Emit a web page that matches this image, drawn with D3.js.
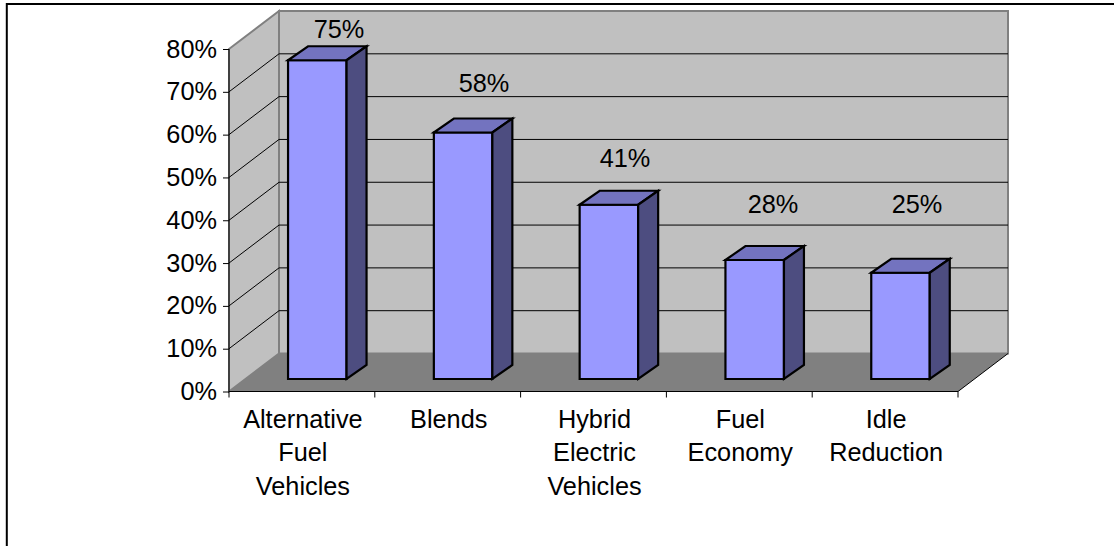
<!DOCTYPE html>
<html>
<head>
<meta charset="utf-8">
<script src="https://cdn.jsdelivr.net/npm/d3@7/dist/d3.min.js"></script>
<style>
html,body{margin:0;padding:0;background:#fff;overflow:hidden;}
svg{display:block;}
text{font-family:"Liberation Sans",Arial,sans-serif;font-size:25.3px;fill:#000;}
</style>
</head>
<body>
<svg id="chart" width="1114" height="546"></svg>
<script>
// Survey shares drawn as a 3D-look column chart
const categories = [
  ["Alternative","Fuel","Vehicles"],
  ["Blends"],
  ["Hybrid","Electric","Vehicles"],
  ["Fuel","Economy"],
  ["Idle","Reduction"]
];
const values = [75, 58, 41, 28, 25];
const tickValues = [0, 10, 20, 30, 40, 50, 60, 70, 80];
const valueLabelX = [339, 484, 625, 773, 917];
const valueLabelY = [38, 92, 167, 213, 213];

const svg = d3.select("#chart");
const frontLeft = 229, frontRight = 958, frontBase = 391.5, frontTop = 49;
const depthX = 50, depthY = -38;

const band = d3.scaleBand().domain(d3.range(values.length)).range([frontLeft, frontRight]);
const y = d3.scaleLinear().domain([0, 80]).range([frontBase, frontTop]);
// Columns stand partway back on the floor, so they get their own baseline
const barY = d3.scaleLinear().domain([0, 80]).range([379, 39]);
const barWidth = 58.5, barDX = 20, barDY = -14, barShift = 15.4;

const poly = pts => d3.line()(pts) + "Z";

// Outer frame, open past the right and bottom edges of the page
svg.append("rect").attr("x",6.8).attr("y",4).attr("width",1200).attr("height",700)
  .attr("fill","#fff").attr("stroke","#000").attr("stroke-width",2);

// Walls and floor
svg.append("path").attr("d", poly([[frontLeft+depthX,y(80)+depthY],[frontRight+depthX,y(80)+depthY],[frontRight+depthX,y(0)+depthY],[frontLeft+depthX,y(0)+depthY]]))
  .attr("fill","#c0c0c0").attr("stroke","#808080").attr("stroke-width",2);
svg.append("path").attr("d", poly([[frontLeft,y(80)],[frontLeft+depthX,y(80)+depthY],[frontLeft+depthX,y(0)+depthY],[frontLeft,y(0)]]))
  .attr("fill","#c0c0c0").attr("stroke","#808080").attr("stroke-width",2);
svg.append("path").attr("d", poly([[frontLeft,y(0)],[frontLeft+depthX,y(0)+depthY],[frontRight+depthX,y(0)+depthY],[frontRight,y(0)]]))
  .attr("fill","#808080");

// Gridlines wrapping the side and back walls
const gridTicks = tickValues.filter(t => t > 0 && t < 80);
svg.append("g").selectAll("path").data(gridTicks).join("path")
  .attr("d", t => d3.line()([[frontLeft,y(t)],[frontLeft+depthX,y(t)+depthY],[frontRight+depthX,y(t)+depthY]]))
  .attr("fill","none").attr("stroke","#000").attr("stroke-width",1);

// Floor edges
svg.append("path").attr("d", d3.line()([[frontLeft,y(0)],[frontRight,y(0)],[frontRight+depthX,y(0)+depthY]]))
  .attr("fill","none").attr("stroke","#000").attr("stroke-width",1);

// Value axis
const yAxis = d3.axisLeft(y).tickValues(tickValues).tickSize(6).tickPadding(6).tickFormat(d => d + "%");
const gy = svg.append("g").attr("transform",`translate(${frontLeft},0)`).call(yAxis);
gy.selectAll("path.domain").attr("d",`M0,${y(80)}V${y(0)}`).attr("stroke","#000");

// Category axis ticks at the band boundaries
svg.append("g").selectAll("line").data(d3.range(values.length+1)).join("line")
  .attr("x1", i => frontLeft + i*band.step()).attr("x2", i => frontLeft + i*band.step())
  .attr("y1", y(0)).attr("y2", y(0)+6).attr("stroke","#000");

// Columns: front, top and side faces
const bars = svg.append("g").selectAll("g").data(values).join("g")
  .attr("transform",(d,i)=>`translate(${band(i)+band.step()/2-barWidth/2+barShift},0)`)
  .attr("stroke","#000").attr("stroke-width",2.2);
bars.append("path").attr("fill","#9999ff")
  .attr("d", d => poly([[0,barY(d)],[barWidth,barY(d)],[barWidth,barY(0)],[0,barY(0)]]));
bars.append("path").attr("fill","#7373bf")
  .attr("d", d => poly([[0,barY(d)],[barDX,barY(d)+barDY],[barWidth+barDX,barY(d)+barDY],[barWidth,barY(d)]]));
bars.append("path").attr("fill","#4d4d80")
  .attr("d", d => poly([[barWidth,barY(d)],[barWidth+barDX,barY(d)+barDY],[barWidth+barDX,barY(0)+barDY],[barWidth,barY(0)]]));

// Value labels above each column
svg.append("g").selectAll("text").data(values).join("text")
  .attr("text-anchor","middle")
  .attr("x",(d,i)=>valueLabelX[i])
  .attr("y",(d,i)=>valueLabelY[i])
  .text(d => d + "%");

// Multi-line category labels
const labels = svg.append("g").selectAll("text").data(categories).join("text")
  .attr("text-anchor","middle")
  .attr("y",427.5);
labels.selectAll("tspan").data((d,i)=>d.map(line=>({line,i}))).join("tspan")
  .attr("x",d=>band(d.i)+band.step()/2+1)
  .attr("dy",(d,j)=>j?33.5:0)
  .text(d=>d.line);
</script>
</body>
</html>
